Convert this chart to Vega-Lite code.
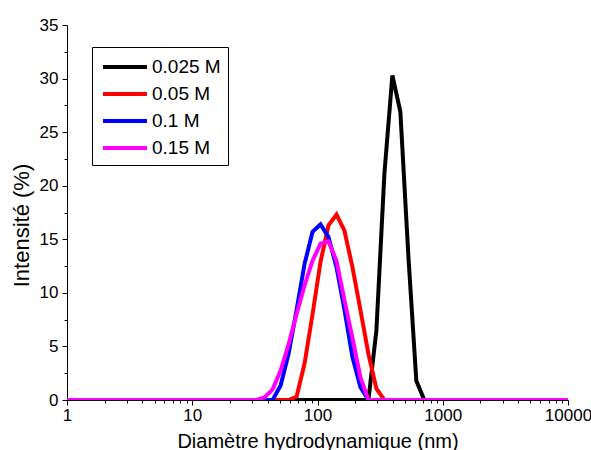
{
  "$schema": "https://vega.github.io/schema/vega-lite/v6.json",
  "autosize": {"type": "none"},
  "width": 501,
  "height": 375,
  "padding": {"left": 67, "top": 25, "right": 23, "bottom": 50},
  "background": "white",
  "config": {
    "view": {"stroke": null},
    "font": "Liberation Sans",
    "axis": {
      "domainColor": "black",
      "tickColor": "black",
      "labelColor": "black",
      "titleColor": "black",
      "labelFont": "Liberation Sans",
      "titleFont": "Liberation Sans",
      "titleFontWeight": "normal",
      "grid": false
    }
  },
  "data": {
    "values": [
      {"d": 0.9649, "k": 0, "r": 0, "b": 0, "m": 0},
      {"d": 1.117, "k": 0, "r": 0, "b": 0, "m": 0},
      {"d": 1.294, "k": 0, "r": 0, "b": 0, "m": 0},
      {"d": 1.499, "k": 0, "r": 0, "b": 0, "m": 0},
      {"d": 1.736, "k": 0, "r": 0, "b": 0, "m": 0},
      {"d": 2.01, "k": 0, "r": 0, "b": 0, "m": 0},
      {"d": 2.328, "k": 0, "r": 0, "b": 0, "m": 0},
      {"d": 2.696, "k": 0, "r": 0, "b": 0, "m": 0},
      {"d": 3.122, "k": 0, "r": 0, "b": 0, "m": 0},
      {"d": 3.615, "k": 0, "r": 0, "b": 0, "m": 0},
      {"d": 4.187, "k": 0, "r": 0, "b": 0, "m": 0},
      {"d": 4.849, "k": 0, "r": 0, "b": 0, "m": 0},
      {"d": 5.615, "k": 0, "r": 0, "b": 0, "m": 0},
      {"d": 6.503, "k": 0, "r": 0, "b": 0, "m": 0},
      {"d": 7.531, "k": 0, "r": 0, "b": 0, "m": 0},
      {"d": 8.721, "k": 0, "r": 0, "b": 0, "m": 0},
      {"d": 10.1, "k": 0, "r": 0, "b": 0, "m": 0},
      {"d": 11.7, "k": 0, "r": 0, "b": 0, "m": 0},
      {"d": 13.54, "k": 0, "r": 0, "b": 0, "m": 0},
      {"d": 15.69, "k": 0, "r": 0, "b": 0, "m": 0},
      {"d": 18.17, "k": 0, "r": 0, "b": 0, "m": 0},
      {"d": 21.04, "k": 0, "r": 0, "b": 0, "m": 0},
      {"d": 24.36, "k": 0, "r": 0, "b": 0, "m": 0},
      {"d": 28.21, "k": 0, "r": 0, "b": 0, "m": 0},
      {"d": 32.67, "k": 0, "r": 0, "b": 0, "m": 0},
      {"d": 37.84, "k": 0, "r": 0, "b": 0, "m": 0.25},
      {"d": 43.82, "k": 0, "r": 0, "b": 0, "m": 1.0},
      {"d": 50.75, "k": 0, "r": 0, "b": 1.35, "m": 2.75},
      {"d": 58.77, "k": 0, "r": 0, "b": 4.3, "m": 5.2},
      {"d": 68.06, "k": 0, "r": 0.3, "b": 8.4, "m": 8.0},
      {"d": 78.82, "k": 0, "r": 3.4, "b": 12.7, "m": 10.7},
      {"d": 91.28, "k": 0, "r": 8.0, "b": 15.7, "m": 13.0},
      {"d": 105.7, "k": 0, "r": 12.9, "b": 16.4, "m": 14.6},
      {"d": 122.4, "k": 0, "r": 16.3, "b": 15.2, "m": 14.8},
      {"d": 141.8, "k": 0, "r": 17.3, "b": 12.4, "m": 13.0},
      {"d": 164.2, "k": 0, "r": 15.8, "b": 8.4, "m": 9.3},
      {"d": 190.1, "k": 0, "r": 12.4, "b": 4.0, "m": 5.8},
      {"d": 220.2, "k": 0, "r": 8.4, "b": 1.2, "m": 2.1},
      {"d": 255.0, "k": 0, "r": 4.3, "b": 0, "m": 0},
      {"d": 295.3, "k": 6.5, "r": 1.05, "b": 0, "m": 0},
      {"d": 342.0, "k": 21.1, "r": 0, "b": 0, "m": 0},
      {"d": 396.1, "k": 30.3, "r": 0, "b": 0, "m": 0},
      {"d": 458.7, "k": 26.9, "r": 0, "b": 0, "m": 0},
      {"d": 531.2, "k": 13.5, "r": 0, "b": 0, "m": 0},
      {"d": 615.1, "k": 1.8, "r": 0, "b": 0, "m": 0},
      {"d": 712.4, "k": 0, "r": 0, "b": 0, "m": 0},
      {"d": 825.0, "k": 0, "r": 0, "b": 0, "m": 0},
      {"d": 955.4, "k": 0, "r": 0, "b": 0, "m": 0},
      {"d": 1106, "k": 0, "r": 0, "b": 0, "m": 0},
      {"d": 1281, "k": 0, "r": 0, "b": 0, "m": 0},
      {"d": 1484, "k": 0, "r": 0, "b": 0, "m": 0},
      {"d": 1718, "k": 0, "r": 0, "b": 0, "m": 0},
      {"d": 1990, "k": 0, "r": 0, "b": 0, "m": 0},
      {"d": 2305, "k": 0, "r": 0, "b": 0, "m": 0},
      {"d": 2669, "k": 0, "r": 0, "b": 0, "m": 0},
      {"d": 3091, "k": 0, "r": 0, "b": 0, "m": 0},
      {"d": 3580, "k": 0, "r": 0, "b": 0, "m": 0},
      {"d": 4145, "k": 0, "r": 0, "b": 0, "m": 0},
      {"d": 4801, "k": 0, "r": 0, "b": 0, "m": 0},
      {"d": 5560, "k": 0, "r": 0, "b": 0, "m": 0},
      {"d": 6439, "k": 0, "r": 0, "b": 0, "m": 0},
      {"d": 7456, "k": 0, "r": 0, "b": 0, "m": 0},
      {"d": 8635, "k": 0, "r": 0, "b": 0, "m": 0},
      {"d": 10000, "k": 0, "r": 0, "b": 0, "m": 0}
    ]
  },
  "transform": [
    {"fold": ["k", "r", "b", "m"], "as": ["serie", "v"]}
  ],
  "mark": {"type": "line", "strokeWidth": 4, "clip": true, "strokeJoin": "miter"},
  "encoding": {
    "x": {
      "field": "d",
      "type": "quantitative",
      "scale": {"type": "log", "domain": [1, 10000], "nice": false},
      "axis": {
        "title": "Diamètre hydrodynamique (nm)",
        "titleFontSize": 20,
        "titlePadding": 8,
        "labelFontSize": 17,
        "labelPadding": 2,
        "format": "d",
        "values": [1, 2, 3, 4, 5, 6, 7, 8, 9, 10, 20, 30, 40, 50, 60, 70, 80, 90, 100, 200, 300, 400, 500, 600, 700, 800, 900, 1000, 2000, 3000, 4000, 5000, 6000, 7000, 8000, 9000, 10000],
        "labelExpr": "indexof([1, 10, 100, 1000, 10000], datum.value) >= 0 ? datum.label : ''",
        "tickSize": {"condition": {"test": "indexof([1, 10, 100, 1000, 10000], datum.value) < 0", "value": 3}, "value": 5},
        "labelOverlap": false,
        "labelFlush": false
      }
    },
    "y": {
      "field": "v",
      "type": "quantitative",
      "scale": {"domain": [0, 35], "nice": false},
      "axis": {
        "title": "Intensité (%)",
        "titleFontSize": 22,
        "titlePadding": 6,
        "titleY": 200,
        "labelFontSize": 17,
        "labelPadding": 4,
        "values": [0, 2.5, 5, 7.5, 10, 12.5, 15, 17.5, 20, 22.5, 25, 27.5, 30, 32.5, 35],
        "labelExpr": "datum.value % 5 == 0 ? datum.label : ''",
        "tickSize": {"condition": {"test": "datum.value % 5 != 0", "value": 3}, "value": 5},
        "labelOverlap": false
      }
    },
    "color": {
      "field": "serie",
      "type": "nominal",
      "sort": ["k", "r", "b", "m"],
      "scale": {"domain": ["k", "r", "b", "m"], "range": ["#000000", "#ff0000", "#0000ff", "#ff00ff"]},
      "legend": {
        "title": null,
        "orient": "none",
        "legendX": 25,
        "legendY": 22,
        "labelExpr": "{'k': '0.025 M', 'r': '0.05 M', 'b': '0.1 M', 'm': '0.15 M'}[datum.label]",
        "labelFontSize": 19,
        "labelFont": "Liberation Sans",
        "labelColor": "black",
        "symbolType": "M-2,0H2",
        "symbolSize": 484,
        "symbolStrokeWidth": 4,
        "symbolOffset": 13,
        "labelOffset": 14,
        "rowPadding": 4,
        "padding": 7,
        "strokeColor": "black",
        "fillColor": "white",
        "cornerRadius": 0
      }
    }
  }
}
